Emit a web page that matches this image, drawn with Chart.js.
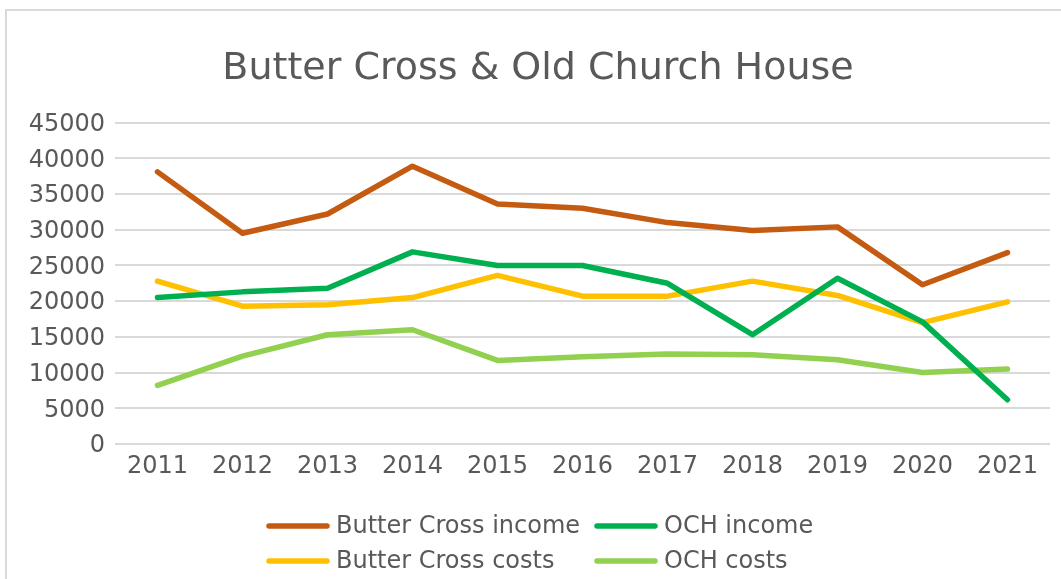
<!DOCTYPE html>
<html>
<head>
<meta charset="utf-8">
<script src="https://cdn.jsdelivr.net/npm/chart.js@4"></script>
<style>
  html, body { margin: 0; padding: 0; background: #fff; overflow: hidden; }
  #frame {
    position: absolute; left: 5px; top: 9px;
    width: 1100px; height: 620px;
    border: 2px solid #d9d9d9;
  }
  #box { position: absolute; left: 0; top: 0; width: 1054px; height: 568px; }
</style>
</head>
<body>
<div id="frame"><div id="box"><canvas id="myChart"></canvas></div></div>
<script>
const years = ['2011','2012','2013','2014','2015','2016','2017','2018','2019','2020','2021'];
const butterCrossIncome = [38100, 29500, 32200, 38900, 33600, 33000, 31000, 29900, 30400, 22300, 26800];
const ochIncome = [20500, 21300, 21800, 26900, 25000, 25000, 22500, 15300, 23200, 17100, 6200];
const butterCrossCosts = [22800, 19300, 19500, 20500, 23600, 20700, 20700, 22800, 20800, 17000, 19900];
const ochCosts = [8200, 12300, 15300, 16000, 11700, 12200, 12600, 12500, 11800, 10000, 10500];

const FONT = 'DejaVu Sans';
const TEXT = '#595959';

function series(label, data, color) {
    return {
        label: label,
        data: data,
        borderColor: color,
        backgroundColor: color,
        borderWidth: 5.5,
        pointRadius: 0,
        tension: 0,
        borderJoinStyle: 'round',
        borderCapStyle: 'round'
    };
}

// legend in two columns like the original
const gridLegend = {
    id: 'gridLegend',
    afterDraw(chart) {
        const c = chart.ctx;
        const cols = [259, 587];
        const rows = [515, 550];
        c.save();
        c.font = '24px "' + FONT + '"';
        c.textBaseline = 'middle';
        c.fillStyle = TEXT;
        chart.data.datasets.forEach((ds, i) => {
            const x = cols[i % 2];
            const y = rows[Math.floor(i / 2)];
            c.strokeStyle = ds.borderColor;
            c.lineWidth = 5.5;
            c.lineCap = 'round';
            c.beginPath();
            c.moveTo(x + 3, y);
            c.lineTo(x + 61, y);
            c.stroke();
            c.fillText(ds.label, x + 70, y + 1);
        });
        c.restore();
    }
};

const ctx = document.getElementById('myChart');

new Chart(ctx, {
    type: 'line',
    data: {
        labels: years,
        datasets: [
            series('Butter Cross income', butterCrossIncome, '#C55A11'),
            series('OCH income', ochIncome, '#00B050'),
            series('Butter Cross costs', butterCrossCosts, '#FFC000'),
            series('OCH costs', ochCosts, '#92D050')
        ]
    },
    options: {
        responsive: true,
        maintainAspectRatio: false,
        animation: false,
        layout: { padding: { left: 19, right: 11, top: 0, bottom: 0 } },
        plugins: {
            legend: { display: false },
            tooltip: { enabled: false },
            title: {
                display: true,
                text: 'Butter Cross & Old Church House',
                color: TEXT,
                font: { family: FONT, size: 38, weight: 'normal' },
                padding: { top: 35, bottom: 31 }
            }
        },
        scales: {
            x: {
                offset: true,
                grid: { display: false, drawTicks: false },
                border: { display: false },
                ticks: { color: TEXT, font: { family: FONT, size: 24 }, padding: 8, maxRotation: 0 },
                afterFit(scale) { scale.height = 135; }
            },
            y: {
                min: 0,
                max: 45000,
                grid: { color: '#d9d9d9', lineWidth: 2, drawTicks: false },
                border: { display: false },
                ticks: {
                    stepSize: 5000, color: TEXT, font: { family: FONT, size: 24 }, padding: 10,
                    labelOffset: 2,
                    callback: (v) => String(v)
                },
                afterFit(scale) { scale.width = 89; }
            }
        }
    },
    plugins: [gridLegend]
});
</script>
</body>
</html>
